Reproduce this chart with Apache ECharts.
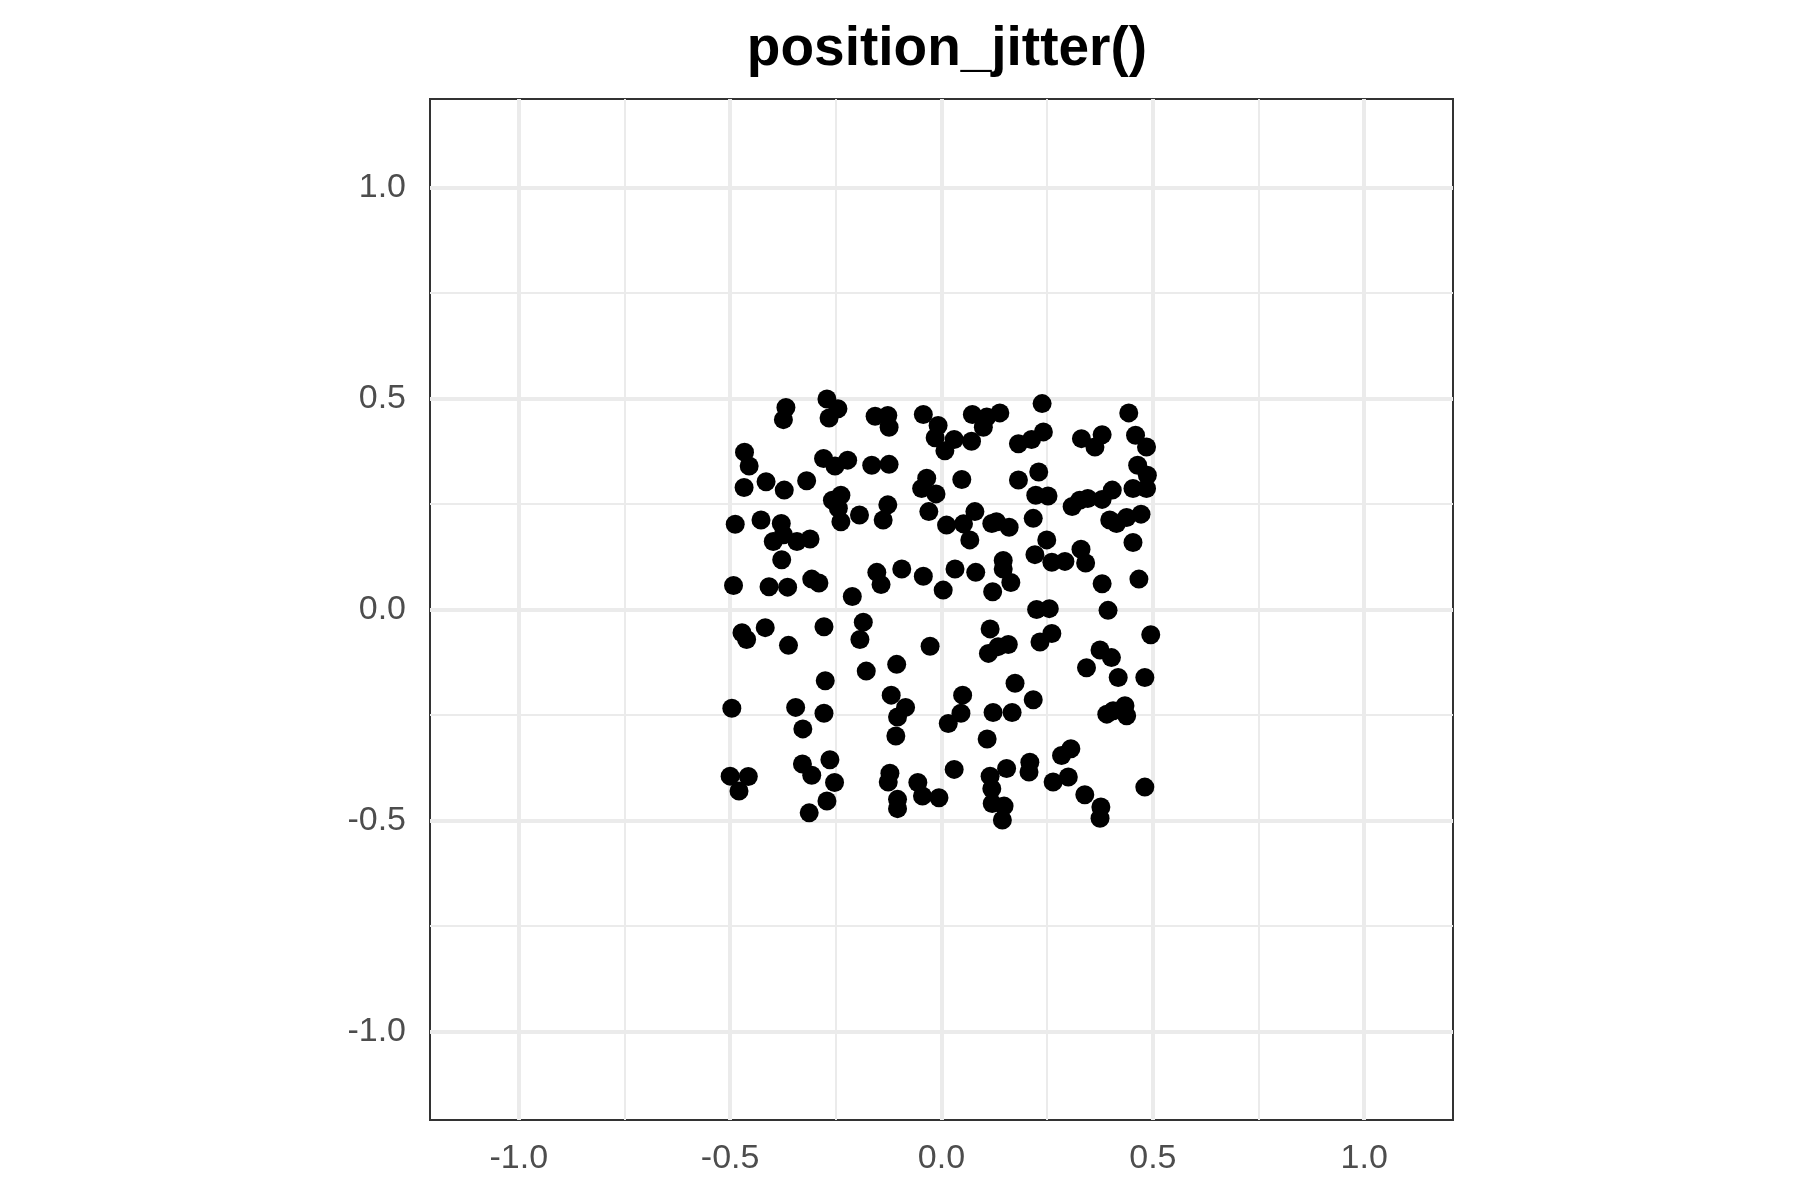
<!DOCTYPE html>
<html>
<head>
<meta charset="utf-8">
<script src="https://cdn.jsdelivr.net/npm/echarts@6/dist/echarts.min.js"></script>
<style>
html,body{margin:0;padding:0;background:#fff;}
#chart{width:1800px;height:1200px;}
</style>
</head>
<body>
<div id="chart"></div>
<script>
const chartTitle = 'position_jitter()';
const tickValues = [-1, -0.5, 0, 0.5, 1];
const tickLabels = ['-1.0', '-0.5', '0.0', '0.5', '1.0'];
const minorValues = [-0.75, -0.25, 0.25, 0.75];
const axisLimit = 1.21;

const jitterX = [
-0.368,-0.374,-0.271,-0.245,-0.266,-0.466,-0.455,-0.467,-0.415,-0.372,-0.319,-0.279,-0.252,-0.222,-0.258,-0.238,-0.244,-0.238,-0.194,-0.488,-0.427,-0.379,
-0.157,-0.127,-0.124,-0.043,-0.008,-0.015,0.008,0.030,0.071,0.073,0.107,0.099,0.138,0.182,-0.165,-0.124,-0.035,-0.047,-0.013,0.048,0.182,-0.127,-0.138,-0.030,0.012,0.052,0.079,0.119,0.130,0.160,
0.238,0.213,0.241,0.331,0.363,0.380,0.443,0.459,0.485,0.230,0.223,0.252,0.309,0.327,0.346,0.380,0.404,0.464,0.487,0.453,0.485,0.398,0.414,0.438,0.472,0.217,
-0.398,-0.374,-0.342,-0.311,-0.378,-0.492,-0.408,-0.364,-0.307,-0.290,-0.211,-0.472,-0.461,-0.417,-0.362,-0.278,-0.185,-0.193,-0.178,-0.275,
0.067,-0.153,-0.143,-0.094,-0.043,0.004,0.032,0.081,0.146,0.146,0.164,0.121,-0.027,-0.106,0.115,0.111,0.134,0.158,0.174,
0.249,0.221,0.261,0.292,0.330,0.341,0.453,0.467,0.380,0.225,0.255,0.394,0.495,0.233,0.261,0.375,0.402,0.343,0.418,0.481,
-0.496,-0.345,-0.278,-0.328,-0.329,-0.307,-0.264,-0.253,-0.271,-0.313,-0.500,-0.457,-0.479,
-0.119,-0.085,-0.104,-0.108,0.050,0.046,0.016,0.122,0.167,0.108,-0.122,-0.126,-0.056,-0.045,-0.006,-0.104,-0.104,0.030,0.115,0.119,0.120,0.148,0.144,0.154,
0.217,0.391,0.406,0.434,0.438,0.284,0.306,0.209,0.207,0.264,0.300,0.339,0.377,0.375,0.481
];
const jitterY = [
0.479,0.450,0.499,0.476,0.454,0.373,0.340,0.289,0.303,0.283,0.305,0.358,0.340,0.354,0.259,0.271,0.240,0.208,0.224,0.202,0.212,0.204,
0.458,0.460,0.432,0.462,0.436,0.407,0.376,0.403,0.399,0.462,0.456,0.432,0.466,0.393,0.342,0.344,0.311,0.287,0.274,0.308,0.307,0.248,0.212,0.232,0.200,0.203,0.232,0.204,0.208,0.195,
0.488,0.403,0.421,0.405,0.385,0.414,0.466,0.413,0.385,0.326,0.271,0.269,0.244,0.259,0.263,0.261,0.283,0.342,0.318,0.287,0.287,0.212,0.204,0.218,0.226,0.216,
0.161,0.177,0.161,0.167,0.118,0.057,0.054,0.053,0.072,0.063,0.031,-0.055,-0.071,-0.043,-0.085,-0.041,-0.030,-0.071,-0.146,-0.169,
0.165,0.088,0.059,0.096,0.079,0.046,0.096,0.088,0.116,0.096,0.064,0.042,-0.087,-0.130,-0.046,-0.104,-0.088,-0.083,-0.175,
0.165,0.130,0.112,0.114,0.143,0.110,0.159,0.072,0.061,0.000,0.002,-0.002,-0.060,-0.077,-0.057,-0.096,-0.114,-0.138,-0.161,-0.161,
-0.234,-0.232,-0.246,-0.283,-0.366,-0.393,-0.356,-0.410,-0.454,-0.482,-0.395,-0.396,-0.430,
-0.203,-0.232,-0.255,-0.300,-0.203,-0.246,-0.270,-0.244,-0.244,-0.307,-0.388,-0.409,-0.410,-0.442,-0.446,-0.450,-0.472,-0.379,-0.395,-0.425,-0.460,-0.466,-0.499,-0.377,
-0.214,-0.248,-0.240,-0.228,-0.252,-0.346,-0.330,-0.362,-0.385,-0.409,-0.397,-0.439,-0.468,-0.495,-0.421
];

const points = jitterX.map((x, i) => [x, jitterY[i]]);

const chart = echarts.init(document.getElementById('chart'), null, {renderer: 'canvas'});

const majorStyle = {color: '#EBEBEB', width: 4, type: 'solid'};
const minorStyle = {color: '#EBEBEB', width: 2, type: 'solid'};
const gridLines = [];
minorValues.forEach(v => {
  gridLines.push({xAxis: v, lineStyle: minorStyle});
  gridLines.push({yAxis: v, lineStyle: minorStyle});
});
tickValues.forEach(v => {
  gridLines.push({xAxis: v, lineStyle: majorStyle});
  gridLines.push({yAxis: v, lineStyle: majorStyle});
});

const labelFmt = v => {
  const idx = tickValues.findIndex(t => Math.abs(t - v) < 1e-9);
  return idx >= 0 ? tickLabels[idx] : '';
};

function makeAxis(margin) {
  return {
    type: 'value',
    min: -axisLimit,
    max: axisLimit,
    axisLine: {show: false},
    splitLine: {show: false},
    axisTick: {show: true, inside: false, length: 12, customValues: tickValues,
      lineStyle: {color: '#333333', width: 2.5}},
    axisLabel: {show: true, customValues: tickValues, formatter: labelFmt,
      color: '#4D4D4D', fontSize: 34, fontFamily: 'Liberation Sans, Arial, sans-serif', margin: margin}
  };
}

chart.setOption({
  animation: false,
  backgroundColor: '#ffffff',
  title: {
    text: chartTitle,
    left: 942,
    textAlign: 'center',
    top: 17,
    textStyle: {fontFamily: 'Liberation Sans, Arial, sans-serif', fontWeight: 'bold', fontSize: 55, color: '#000000'}
  },
  grid: {
    left: 430, top: 99, width: 1023, height: 1021,
    show: true, borderColor: '#333333', borderWidth: 2, backgroundColor: '#ffffff'
  },
  xAxis: makeAxis(22),
  yAxis: makeAxis(24),
  series: [
    {
      type: 'scatter',
      data: [],
      silent: true,
      z: 1,
      markLine: {
        silent: true,
        symbol: ['none', 'none'],
        label: {show: false},
        animation: false,
        data: gridLines
      }
    },
    {
      type: 'scatter',
      data: points,
      symbol: 'circle',
      symbolSize: 19,
      z: 5,
      itemStyle: {color: '#000000', opacity: 1}
    }
  ]
});
</script>
</body>
</html>
